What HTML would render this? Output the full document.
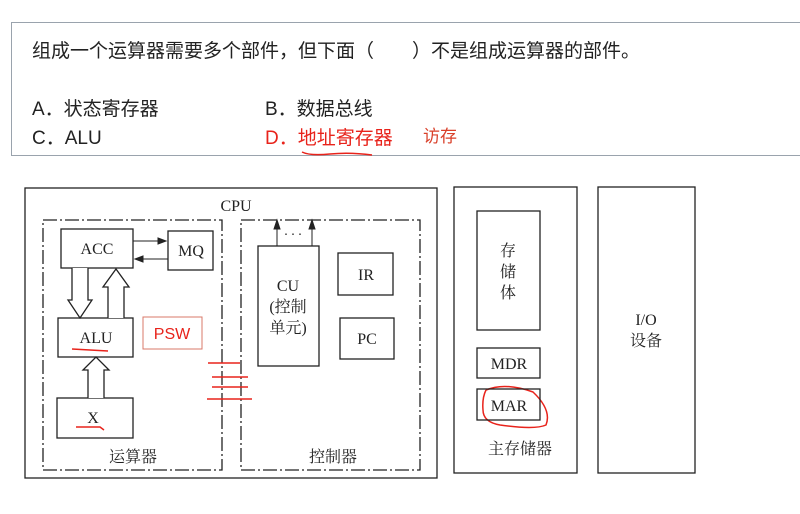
<!DOCTYPE html>
<html><head><meta charset="utf-8"><style>
body{margin:0;width:800px;height:514px;background:#fff;position:relative;overflow:hidden;font-family:"Liberation Sans","Noto Sans CJK SC",sans-serif}
.t{position:absolute;white-space:nowrap;font-size:19px;color:#222}
</style></head><body>
<div style="position:absolute;left:17px;top:34px;width:800px;height:202px;border:1px solid #9aa3ad;top:34px;height:201px;display:none"></div>
<div style="position:absolute;left:17px;top:34px;width:800px;height:203px;border:1px solid #9aa3ad;display:none"></div>
<div style="position:absolute;left:17px;top:34px;width:790px;height:200px;display:none"></div>
<div style="position:absolute;left:17px;top:34px;display:none"></div>
<div style="position:absolute;left:17px;top:34px;display:none"></div>
<div style="position:absolute;left:17px;top:34px;width:800px;height:203px;display:none"></div>
<div style="position:absolute;left:17px;top:34px;display:none"></div>
<div style="position:absolute;left:18px;top:34px;width:800px;height:203px;display:none"></div>
<div style="position:absolute;left:17px;top:34px;display:none"></div>
<div style="position:absolute;left:17px;top:34px;width:800px;height:203px;border:1px solid #9aa3ad;display:none"></div>
<div style="position:absolute;left:17px;top:34px;width:783px;height:203px;display:none"></div>
<div style="position:absolute;left:17px;top:34px;display:none"></div>
<div style="position:absolute;left:17px;top:34px;display:none"></div>
<div style="position:absolute;left:17px;top:34px;width:783px;height:203px;display:none"></div>
<div style="position:absolute;left:17px;top:34px;display:none"></div>
<div style="position:absolute;left:11px;top:22px;width:800px;height:132px;border:1px solid #9aa3ad"></div>
<div class="t" style="left:32px;top:36px">组成一个运算器需要多个部件，但下面（　　）不是组成运算器的部件。</div>
<div class="t" style="left:32px;top:94px">A．状态寄存器</div>
<div class="t" style="left:265px;top:94px">B．数据总线</div>
<div class="t" style="left:32px;top:123px">C．ALU</div>
<div class="t" style="left:265px;top:123px;color:#e8231b">D．地址寄存器</div>
<div class="t" style="left:423px;top:122px;color:#d9402a;font-size:17px">访存</div>
<svg width="800" height="514" style="position:absolute;left:0;top:0" font-family="Liberation Serif,Noto Serif CJK SC,serif" font-size="16" fill="none" stroke="#222">
<path d="M302 152 Q310 156 330 154 T372 155" stroke="#e8231b" stroke-width="1.5"/>
<rect x="25" y="188" width="412" height="290" stroke-width="1.3"/>
<rect x="43" y="220" width="179" height="250" stroke-dasharray="14,3,2,3" stroke-width="1.3"/>
<rect x="241" y="220" width="179" height="250" stroke-dasharray="14,3,2,3" stroke-width="1.3"/>
<rect x="61" y="229" width="72" height="39" stroke-width="1.3"/>
<rect x="168" y="231" width="45" height="39" stroke-width="1.3"/>
<rect x="58" y="318" width="75" height="39" stroke-width="1.3"/>
<rect x="57" y="398" width="76" height="40" stroke-width="1.3"/>
<rect x="143" y="317" width="59" height="32" stroke="#d9786a"/>
<rect x="258" y="246" width="61" height="120" stroke-width="1.3"/>
<rect x="338" y="253" width="55" height="42" stroke-width="1.3"/>
<rect x="340" y="318" width="54" height="41" stroke-width="1.3"/>
<line x1="133" y1="241" x2="163" y2="241"/><path d="M158 238 L166 241 L158 244Z" fill="#222"/>
<line x1="168" y1="259" x2="140" y2="259"/><path d="M143 256 L135 259 L143 262Z" fill="#222"/>
<path d="M72 268 V300 H68 L80 318 L92 300 H88 V268" stroke-width="1.3" fill="#fff"/>
<path d="M108 318 V287 H103 L116 269 L129 287 H124 V318" stroke-width="1.3" fill="#fff"/>
<path d="M88 398 V370 H83 L96 357 L109 370 H104 V398" stroke-width="1.3" fill="#fff"/>
<line x1="277" y1="246" x2="277" y2="226"/><path d="M274 229 L277 220 L280 229Z" fill="#222"/>
<line x1="312" y1="246" x2="312" y2="226"/><path d="M309 229 L312 220 L315 229Z" fill="#222"/>
<g stroke="#e8231b" stroke-width="1.5"><line x1="208" y1="363" x2="240" y2="363"/><line x1="212" y1="377" x2="248" y2="377"/><line x1="212" y1="387" x2="248" y2="387"/><line x1="207" y1="399" x2="252" y2="399"/>
<path d="M72 349 Q90 350 108 351"/><path d="M76 427 H100 L104 430"/>
<path d="M486 390 Q505 382 533 392 Q552 410 546 425 Q535 430 500 425 Q483 422 483 410 Q482 398 486 390"/></g>
<rect x="454" y="187" width="123" height="286" stroke-width="1.3"/>
<rect x="477" y="211" width="63" height="119" stroke-width="1.3"/>
<rect x="477" y="348" width="63" height="30" stroke-width="1.3"/>
<rect x="477" y="389" width="63" height="31" stroke-width="1.3"/>
<rect x="598" y="187" width="97" height="286" stroke-width="1.3"/>
<g fill="#222" stroke="none" text-anchor="middle">
<text x="236" y="211">CPU</text>
<text x="97" y="254">ACC</text><text x="191" y="256">MQ</text>
<text x="96" y="343">ALU</text><text x="93" y="423">X</text>
<text x="288" y="291">CU</text><text x="288" y="312">(控制</text><text x="288" y="333">单元)</text>
<text x="366" y="280">IR</text><text x="367" y="344">PC</text>
<text x="133" y="462">运算器</text><text x="333" y="462">控制器</text>
<text x="508" y="256">存</text><text x="508" y="277">储</text><text x="508" y="298">体</text>
<text x="509" y="369">MDR</text><text x="509" y="411">MAR</text>
<text x="520" y="454">主存储器</text>
<text x="646" y="325">I/O</text><text x="646" y="346">设备</text>
<text x="293" y="235" font-size="14">. . .</text>
<text x="172" y="339" fill="#e8231b" font-family="Liberation Sans,sans-serif" font-size="16">PSW</text>
</g>
</svg>
</body></html>
